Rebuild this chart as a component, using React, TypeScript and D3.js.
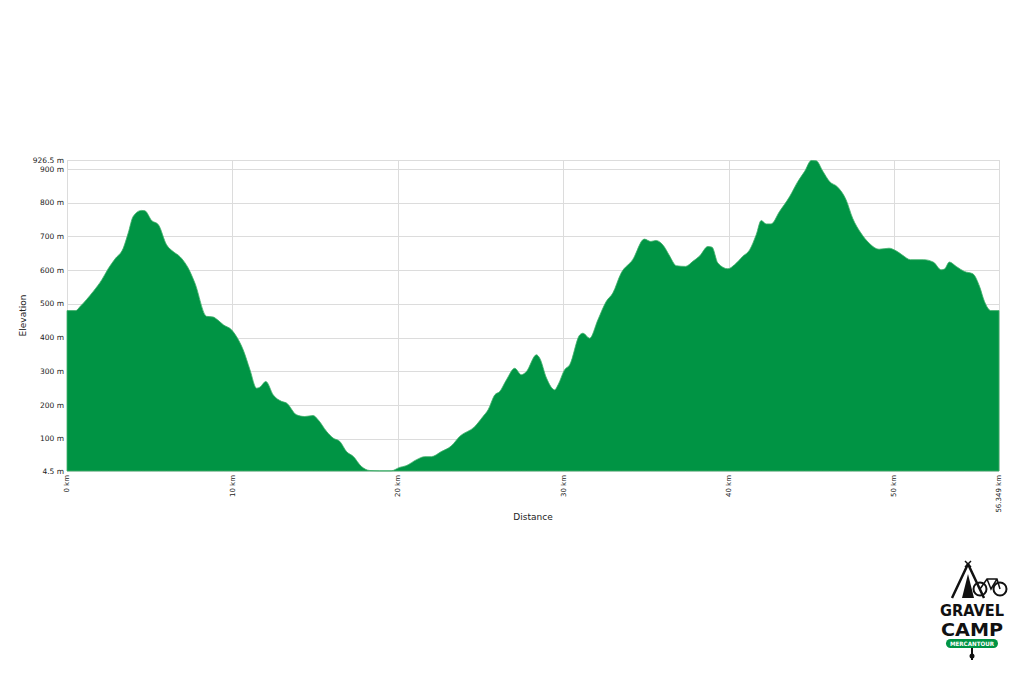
import React from "react";
import * as d3 from "d3";

const distanceKm = [0, 0.54, 0.79, 1.59, 2.1, 2.5, 2.9, 3.4, 3.7, 4.0, 4.5, 4.71, 5.12, 5.52, 6.02, 6.42, 6.83, 7.33, 7.73, 8.44, 8.84, 9.04, 9.45, 9.95, 10.25, 10.65, 11.06, 11.46, 11.66, 12.02, 12.47, 12.97, 13.27, 13.88, 14.38, 14.88, 15.19, 15.69, 16.09, 16.5, 16.9, 17.3, 17.8, 18.3, 18.9, 19.6, 20.1, 20.5, 21.13, 21.63, 22.03, 22.63, 23.24, 23.74, 24.65, 25.15, 25.46, 25.86, 26.16, 26.57, 27.07, 27.47, 27.77, 28.38, 28.58, 28.99, 29.49, 29.69, 30.09, 30.39, 31.0, 31.2, 31.6, 32.1, 32.6, 33.0, 33.5, 34.2, 34.9, 35.3, 35.6, 36.1, 36.4, 36.85, 37.4, 37.84, 38.25, 38.75, 39.0, 39.35, 39.96, 40.36, 40.86, 41.27, 41.67, 41.97, 42.27, 42.57, 43.08, 43.69, 44.19, 44.6, 45.0, 45.3, 45.7, 46.1, 46.6, 47.1, 47.5, 48.0, 48.5, 49.1, 49.7, 50.1, 50.5, 51.0, 51.8, 52.4, 52.85, 53.05, 53.35, 53.76, 54.26, 54.77, 55.17, 55.47, 55.87, 56.349];
const elevationM = [480, 480, 492, 537, 571, 605, 633, 665, 710, 759, 777, 776, 747, 735, 675, 655, 640, 606, 562, 463, 461, 455, 438, 423, 403, 364, 305, 250, 253, 270, 230, 211, 206, 171, 166, 169, 156, 122, 102, 92, 62, 48, 18, 6, 5, 5, 15, 20, 38, 47, 47, 62, 79, 107, 136, 166, 186, 230, 240, 275, 309, 290, 299, 349, 339, 280, 245, 260, 305, 319, 408, 413, 398, 453, 507, 532, 591, 631, 692, 685, 688, 670, 645, 613, 611, 626, 642, 670, 668, 621, 604, 616, 641, 660, 705, 747, 737, 737, 774, 818, 863, 893, 925, 924, 893, 863, 846, 809, 754, 710, 680, 662, 665, 658, 645, 631, 631, 623, 601, 603, 624, 611, 596, 589, 552, 507, 480, 480];

const yTickValues = [4.5, 100, 200, 300, 400, 500, 600, 700, 800, 900, 926.5];
const yTickLabels = ["4.5 m", "100 m", "200 m", "300 m", "400 m", "500 m", "600 m", "700 m", "800 m", "900 m", "926.5 m"];
const xTickValues = [0, 10, 20, 30, 40, 50, 56.349];
const xTickLabels = ["0 km", "10 km", "20 km", "30 km", "40 km", "50 km", "56.349 km"];

const W = 1024, H = 677;
const L = 67, R = 999, T = 160, B = 471;
const GREEN = "#009444";
const FONT = "DejaVu Sans, Verdana, sans-serif";

export default function App() {
  const x = d3.scaleLinear().domain([0, 56.349]).range([L, R]);
  const y = d3.scaleLinear().domain([4.5, 926.5]).range([B, T]);
  const data = distanceKm.map((d, i) => [d, elevationM[i]] as [number, number]);
  const area = d3.area<[number, number]>()
    .x(d => x(d[0]))
    .y0(y(4.5))
    .y1(d => y(d[1]))
    .curve(d3.curveMonotoneX);

  return (
    <div style={{ position: "absolute", left: 0, top: 0, width: W, height: H, background: "#fff" }}>
      <svg width={W} height={H} style={{ display: "block" }}>
        <rect x={0} y={0} width={W} height={H} fill="#fff" />
        {yTickValues.map((v, i) => (
          <line key={"gy" + i} x1={L} x2={R} y1={Math.round(y(v)) + 0.5} y2={Math.round(y(v)) + 0.5} stroke="#dcdcdc" strokeWidth={1} />
        ))}
        {xTickValues.map((v, i) => (
          <line key={"gx" + i} x1={Math.round(x(v)) + 0.5} x2={Math.round(x(v)) + 0.5} y1={T} y2={B} stroke="#dcdcdc" strokeWidth={1} />
        ))}
        <path d={area(data) || ""} fill={GREEN} stroke="#3fae6a" strokeWidth={0.8} />
        {yTickValues.map((v, i) => (
          <text key={"ly" + i} x={L - 3} y={y(v)} dy="0.35em" textAnchor="end" fontFamily={FONT} fontSize={7.5} fill="#222">
            {yTickLabels[i]}
          </text>
        ))}
        {xTickValues.map((v, i) => (
          <text key={"lx" + i} transform={`translate(${x(v)},${B + 4}) rotate(-90)`} dy="0.35em" textAnchor="end" fontFamily={FONT} fontSize={7} fill="#222">
            {xTickLabels[i]}
          </text>
        ))}
        <text x={(L + R) / 2} y={520} textAnchor="middle" fontFamily={FONT} fontSize={9} fill="#222">Distance</text>
        <text transform={`translate(26,${(T + B) / 2}) rotate(-90)`} textAnchor="middle" fontFamily={FONT} fontSize={9} fill="#222">Elevation</text>
        <g transform="translate(938,560)">
          <path d="M30,4 L14,38 M30,4 L46,38" stroke="#111" strokeWidth={2.5} fill="none" />
          <path d="M27,1 L33,7 M33,1 L27,7" stroke="#111" strokeWidth={1.5} />
          <path d="M30,14 L24,38 L36,38 Z" fill="#111" />
          <circle cx={42} cy={29} r={6.5} stroke="#111" strokeWidth={2} fill="none" />
          <circle cx={62} cy={29} r={6.5} stroke="#111" strokeWidth={2} fill="none" />
          <path d="M42,29 L49,19 L59,19 L62,29 M49,19 L53,29 L59,19" stroke="#111" strokeWidth={1.5} fill="none" />
          <text x={34} y={56} textAnchor="middle" fontFamily="DejaVu Sans Condensed, DejaVu Sans, sans-serif" fontWeight="bold" fontSize={15} textLength={64} lengthAdjust="spacingAndGlyphs" fill="#111">GRAVEL</text>
          <text x={34} y={76} textAnchor="middle" fontFamily="DejaVu Sans Condensed, DejaVu Sans, sans-serif" fontWeight="bold" fontSize={17} textLength={62} lengthAdjust="spacingAndGlyphs" fill="#111">CAMP</text>
          <rect x={8} y={79} width={52} height={9} rx={4.5} fill={GREEN} />
          <text x={34} y={86} textAnchor="middle" fontFamily="DejaVu Sans, sans-serif" fontWeight="bold" fontSize={6} textLength={44} lengthAdjust="spacingAndGlyphs" fill="#fff">MERCANTOUR</text>
          <path d="M34,88 L34,100" stroke="#111" strokeWidth={2} />
          <circle cx={34} cy={96} r={2.5} fill="#111" />
        </g>
      </svg>
    </div>
  );
}
